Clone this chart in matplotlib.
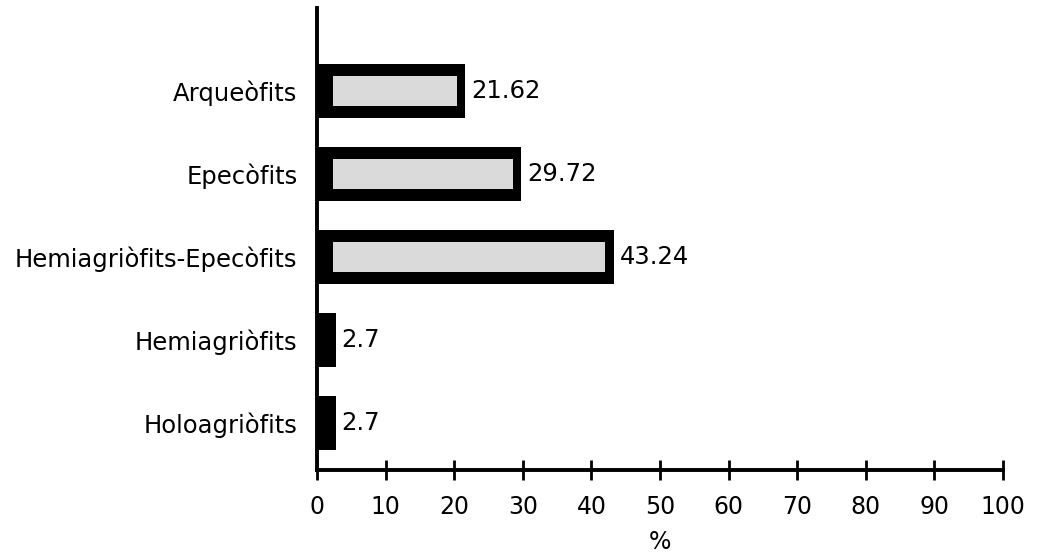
import matplotlib.pyplot as plt

categories = ["Holoagriòfits", "Hemiagriòfits", "Hemiagriòfits-Epecòfits", "Epecòfits", "Arqueòfits"]
values = [2.7, 2.7, 43.24, 29.72, 21.62]
value_labels = ["2.7", "2.7", "43.24", "29.72", "21.62"]
xticks = [0, 10, 20, 30, 40, 50, 60, 70, 80, 90, 100]

plt.rcParams['font.family'] = ['DejaVu Sans']

fig = plt.figure(figsize=(10.38, 5.56), dpi=100)
ax = fig.add_axes([0.3054, 0.1547, 0.6609, 0.8309])

pos = list(range(len(categories)))
ax.barh(pos, values, height=0.66, color='black', zorder=2)

# grey speckled interior on the wide bars
for y, v in zip(pos, values):
    if v > 10:
        ax.barh(y, v - 3.5, left=2.3, height=0.36, color='#dadada', zorder=3)
    ax.text(v + 0.9, y, value_labels[y], va='center', ha='left', fontsize=17.5)

ax.set_xlim(0, 100)
ax.set_ylim(-0.566, 5.0)
ax.set_yticks(pos)
ax.set_yticklabels(categories, fontsize=17.5)
ax.set_xticks(xticks)
ax.set_xticklabels([str(t) for t in xticks], fontsize=17)
ax.set_xlabel("%", fontsize=17, labelpad=8)

for s in ['top', 'right']:
    ax.spines[s].set_visible(False)
for s in ['left', 'bottom']:
    ax.spines[s].set_linewidth(2.8)

ax.tick_params(axis='y', length=0, pad=14)
ax.tick_params(axis='x', direction='inout', length=14, width=2, pad=11)

fig.savefig('out.png', dpi=100)
